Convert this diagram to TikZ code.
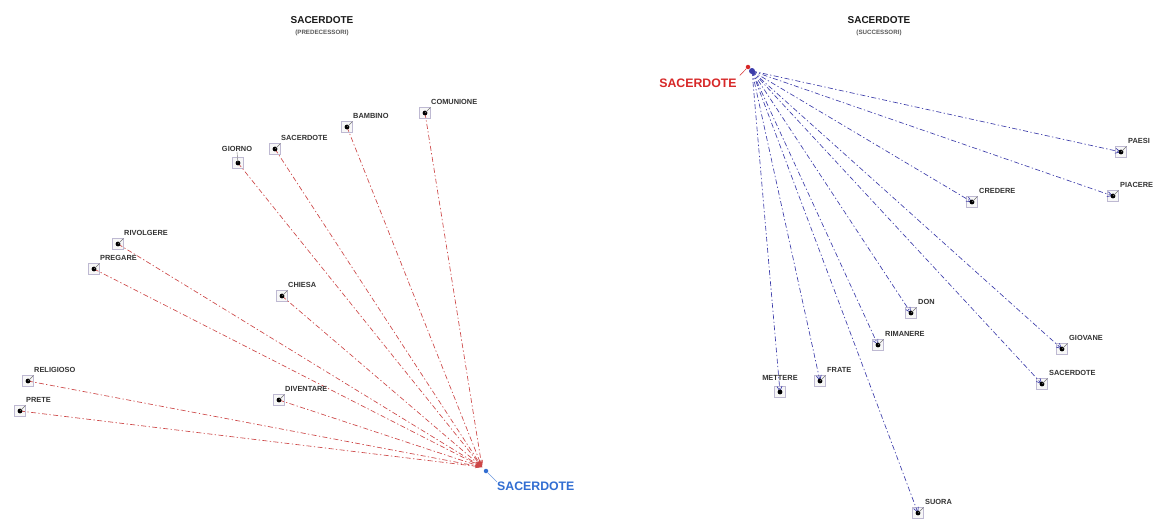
\documentclass[tikz,border=0pt]{standalone}
\usepackage{fontspec}
\setmainfont{Liberation Sans}
\usetikzlibrary{arrows.meta}
\definecolor{lnred}{RGB}{205,70,70}
\definecolor{lnblue}{RGB}{60,60,170}
\definecolor{boxc}{RGB}{190,185,210}
\definecolor{cblue}{RGB}{50,110,210}
\definecolor{cred}{RGB}{215,40,40}
\tikzset{
  wbox/.style={draw=boxc, fill=black!3, line width=0.7pt, minimum size=10.5pt, inner sep=0pt},
  tickln/.style={draw=black!55, line width=0.4pt},
  lab/.style={font=\fontsize{7.4}{8}\selectfont\bfseries, text=black!80, inner sep=0pt},
  title/.style={font=\fontsize{10}{11}\selectfont\bfseries, text=black!90, inner sep=0pt},
  subtitle/.style={font=\fontsize{6.2}{7}\selectfont\bfseries, text=black!65, inner sep=0pt},
  bigred/.style={font=\fontsize{12.3}{14}\selectfont\bfseries, text=cred, inner sep=0pt},
  bigblue/.style={font=\fontsize{12.3}{14}\selectfont\bfseries, text=cblue, inner sep=0pt},
  redln/.style={draw=lnred, line width=0.65pt, dash pattern=on 5pt off 2.4pt on 1.3pt off 2.4pt, -{Stealth[length=7pt,width=4pt]}},
  blueln/.style={draw=lnblue, line width=0.65pt, dash pattern=on 5pt off 2.4pt on 1.3pt off 2.4pt, -{Straight Barb[length=5pt,width=5pt]}},
}
\begin{document}
\begin{tikzpicture}[x=1pt,y=-1pt]
\useasboundingbox[fill=white] (0,0) rectangle (1153,520);
% titles
\node[title] (t1) at (322,20) {SACERDOTE};
\node[subtitle] (s1) at (322,33) {(PREDECESSORI)};
\node[title] (t2) at (879,20) {SACERDOTE};
\node[subtitle] (s2) at (879,33) {(SUCCESSORI)};
% centers
\coordinate (lc) at (482,467);
\coordinate (rc) at (752,71);
% left graph
\foreach \n/\x/\y/\t in {lcom/425/113/COMUNIONE, lbam/347/127/BAMBINO, lsac/275/149/SACERDOTE,
  lriv/118/244/RIVOLGERE, lpre/94/269/PREGARE, lchi/282/296/CHIESA,
  lrel/28/381/RELIGIOSO, lprt/20/411/PRETE, ldiv/279/400/DIVENTARE}{
  \node[wbox] (\n) at (\x,\y) {};
  \draw[redln] (\n.center) -- (lc);
  \fill (\n.center) circle (2.4);
  \draw[tickln] (\n.center) -- (\n.north east);
  \node[lab, anchor=south west] (\n-t) at ([shift={(6,-8)}]\n.center) {\t};
}
\node[wbox] (lgio) at (238,163) {};
\draw[redln] (lgio.center) -- (lc);
\fill (lgio.center) circle (2.4);
\node[lab, anchor=south] (lgio-t) at ([shift={(-1,-11)}]lgio.center) {GIORNO};
\draw[tickln] (lgio.center) -- (lgio-t.south);
% left center
\node[circle, fill=cblue, inner sep=0pt, minimum size=4.5pt] (lcd) at (486,471) {};
\node[bigblue, anchor=north west] (lcl) at (497,482) {SACERDOTE};
\draw[cblue!70, line width=0.5pt] (lcd) -- (lcl.north west);
% right graph
\node[circle, fill=cred, inner sep=0pt, minimum size=4.5pt] (rcd) at (748,67) {};
\node[bigred] (rcl) at (698,83) {SACERDOTE};
\draw[cred, line width=0.5pt] (rcd) -- ([shift={(3,-3)}]rcl.north east);
\foreach \n/\x/\y/\t in {rpae/1121/152/PAESI, rpia/1113/196/PIACERE, rcre/972/202/CREDERE,
  rdon/911/313/DON, rrim/878/345/RIMANERE, rgio/1062/349/GIOVANE, rsac/1042/384/SACERDOTE,
  rfra/820/381/FRATE, rsuo/918/513/SUORA}{
  \node[wbox] (\n) at (\x,\y) {};
  \draw[blueln] (rc) -- (\n.center);
  \fill (\n.center) circle (2.4);
  \draw[tickln] (\n.center) -- (\n.north east);
  \node[lab, anchor=south west] (\n-t) at ([shift={(7,-8)}]\n.center) {\t};
}
\node[wbox] (rmet) at (780,392) {};
\draw[blueln] (rc) -- (rmet.center);
\fill (rmet.center) circle (2.4);
\node[lab, anchor=south] (rmet-t) at ([shift={(0,-11)}]rmet.center) {METTERE};
\fill[lnblue] (rc) circle (3);
\end{tikzpicture}
\end{document}
